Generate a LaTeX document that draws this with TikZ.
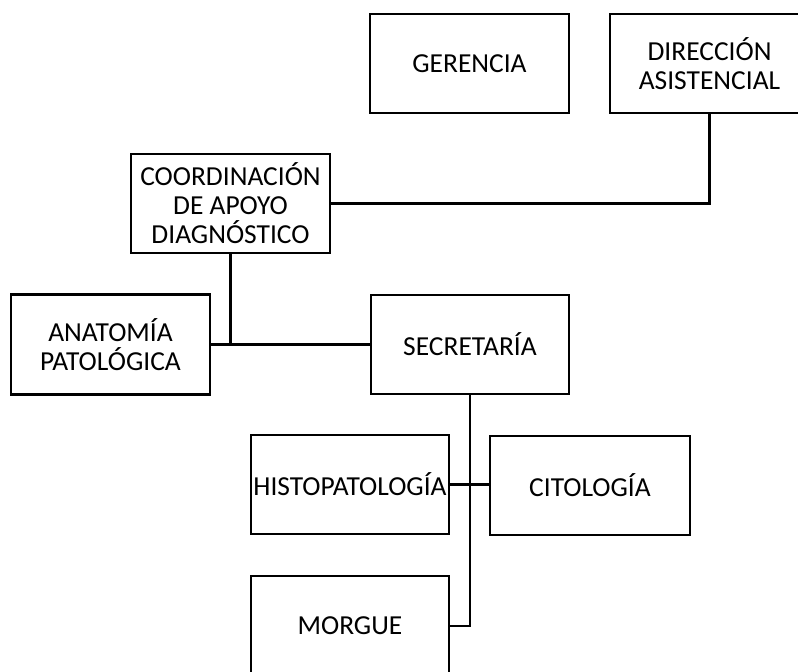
\documentclass[tikz,border=0pt]{standalone}
\usepackage{fontspec}
\setmainfont{Carlito}
\begin{document}
\begin{tikzpicture}[x=0.75pt,y=-0.75pt,
  box/.style={draw=black,line width=2.1pt,fill=white,inner sep=0pt,align=center,
    font=\fontsize{20.6}{21.8}\selectfont},
  link/.style={draw=black,line width=2pt}]
\useasboundingbox (0,0) rectangle (798,671);
\clip (0,0) rectangle (798,671);
\fill[white] (0,0) rectangle (798,671);
\node[box,minimum width=199*0.75pt,minimum height=99*0.75pt] (ger) at (469.5,63.5) {GERENCIA};
\node[box,minimum width=199*0.75pt,minimum height=99*0.75pt] (dir) at (709.5,63.5) {DIRECCIÓN\\ASISTENCIAL};
\node[box,minimum width=199*0.75pt,minimum height=99*0.75pt] (coord) at (230.5,203.5) {COORDINACIÓN\\DE APOYO\\DIAGNÓSTICO};
\node[box,minimum width=199*0.75pt,minimum height=100*0.75pt] (anat) at (110.5,344.5) {ANATOMÍA\\PATOLÓGICA};
\node[box,minimum width=198*0.75pt,minimum height=99*0.75pt] (sec) at (470,344.5) {SECRETARÍA};
\node[box,minimum width=198*0.75pt,minimum height=99*0.75pt] (histo) at (350,484.5) {HISTOPATOLOGÍA};
\node[box,minimum width=200*0.75pt,minimum height=99*0.75pt] (cito) at (590,485.5) {CITOLOGÍA};
\node[box,minimum width=198*0.75pt,minimum height=100*0.75pt] (morgue) at (350,626) {MORGUE};
\draw[link] (dir.south) |- (coord.east);
\draw[link] (anat.east) -- (anat.east -| sec.west);
\draw[link] (coord.south) -- (coord.south |- anat.east);
\draw[link] (sec.south) |- (morgue.east);
\draw[link] (histo.east) -- (histo.east -| cito.west);
\end{tikzpicture}
\end{document}
